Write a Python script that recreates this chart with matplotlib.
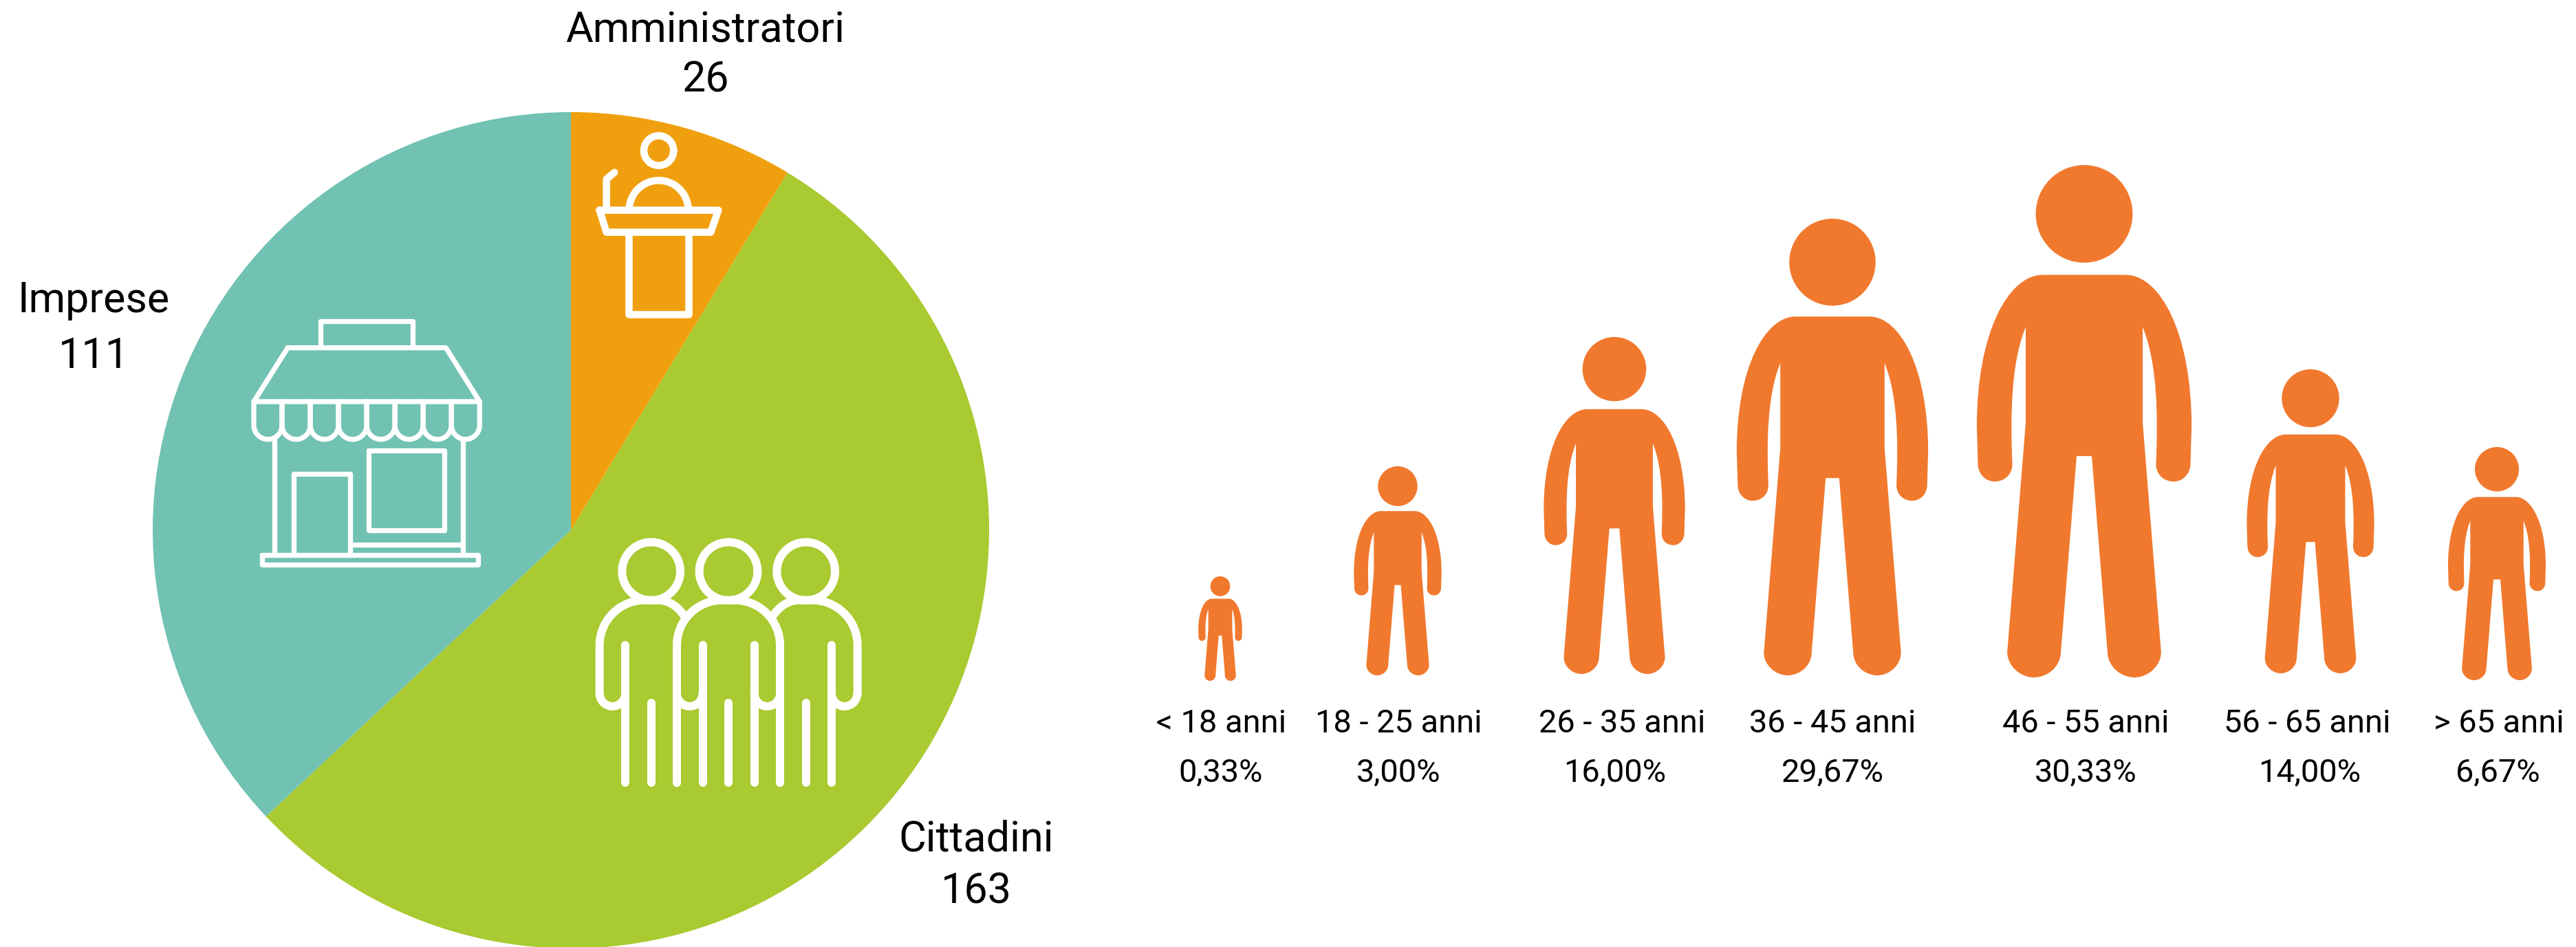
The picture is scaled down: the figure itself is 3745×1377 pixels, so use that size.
import numpy as np
import matplotlib
matplotlib.use("Agg")
import matplotlib.pyplot as plt
from matplotlib.path import Path
from matplotlib.patches import PathPatch
from matplotlib.transforms import Affine2D

# ---------- data ----------
pie_labels = ["Amministratori", "Cittadini", "Imprese"]
pie_values = [26, 163, 111]
pie_colors = ["#F0A00E", "#A9CA30", "#71C2B2"]

age_labels = ["< 18 anni", "18 - 25 anni", "26 - 35 anni", "36 - 45 anni",
              "46 - 55 anni", "56 - 65 anni", "> 65 anni"]
age_share = ["0,33%", "3,00%", "16,00%", "29,67%", "30,33%", "14,00%", "6,67%"]

# ---------- layout (pixels of the 3745x1377 canvas) ----------
W, H = 3745, 1377
PERSON_COLOR = "#F1792E"
FONT = "Roboto"
person_cx = [1774, 2032, 2347, 2664, 3030, 3359, 3630]
person_top = [838, 678, 490, 318, 240, 537, 650]
person_bot = [990, 982, 980, 982, 985, 979, 989]
label_cx = [1775, 2033, 2358, 2664, 3032, 3354, 3633]
share_cx = [1775, 2033, 2348, 2664, 3032, 3358, 3631]
pie_cx, pie_cy, pie_r = 830, 771, 608

fig = plt.figure(figsize=(W / 100, H / 100), dpi=100, facecolor="white")

# pie
pie_ax = fig.add_axes([(pie_cx - pie_r) / W, 1 - (pie_cy + pie_r) / H,
                       2 * pie_r / W, 2 * pie_r / H])
pie_ax.pie(pie_values, colors=pie_colors, startangle=90, counterclock=False,
           radius=1, wedgeprops={"linewidth": 0})
pie_ax.set_xlim(-1, 1)
pie_ax.set_ylim(-1, 1)
pie_ax.set_axis_off()

# overlay in pixel coordinates
ax = fig.add_axes([0, 0, 1, 1], facecolor="none")
ax.set_xlim(0, W)
ax.set_ylim(H, 0)
ax.set_axis_off()


def stroke(pts, off, lw_px, closed=False):
    """White outline from icon points given in crop coordinates (scale 3)."""
    p = np.asarray(pts, float) / 3 + off
    if closed:
        p = np.vstack([p, p[:1]])
    ax.plot(p[:, 0], p[:, 1], color="white", lw=lw_px * 0.72,
            solid_capstyle="round", solid_joinstyle="round", zorder=3)


def arc(cx, cy, rx, ry, a0, a1, n=40):
    t = np.radians(np.linspace(a0, a1, n))
    return np.column_stack([cx + rx * np.cos(t), cy + ry * np.sin(t)])


# --- lectern icon
o, lw = np.array([780, 0]), 10.5
stroke(arc(533, 657, 65, 65, 0, 360), o, lw)
stroke(arc(533, 917, 129, 130, 180, 360), o, lw)
stroke([(305, 917), (305, 782), (340, 752)], o, lw)
stroke([(275, 917), (793, 917), (760, 1013), (305, 1013)], o, lw, closed=True)
stroke([(403, 1013), (403, 1370), (662, 1370), (662, 1013)], o, lw)

# --- shop icon
o, lw = np.array([330, 430]), 7.3
stroke([(408, 225), (408, 110), (810, 110), (810, 225)], o, lw)
stroke([(265, 227), (955, 227), (1102, 462), (117, 462)], o, lw, closed=True)
for i in range(8):
    x0 = 117 + i * 123.1
    x1 = x0 + 123.1
    stroke(np.vstack([[(x0, 462)], arc((x0 + x1) / 2, 565, 61.5, 61.5, 180, 0),
                      [(x1, 462)]]), o, lw)
stroke([(207, 628), (207, 1130)], o, lw)
stroke([(1028, 628), (1028, 1130)], o, lw)
stroke([(290, 1130), (290, 777), (536, 777), (536, 1130)], o, lw)
stroke([(618, 675), (947, 675), (947, 1022), (618, 1022)], o, lw, closed=True)
stroke([(536, 1085), (1028, 1085)], o, lw)
stroke([(152, 1130), (1095, 1130), (1095, 1172), (152, 1172)], o, lw, closed=True)

# --- citizens icon
o, lw = np.array([840, 760]), 12
for x in (320, 657, 995):
    stroke(arc(x, 212, 127, 127, 0, 360, 80), o, lw)
    stroke([(x, 785), (x, 1135)], o, lw)
stroke(np.vstack([[(432, 1135)], arc(630, 535, 198, 197, 180, 270),
                  arc(685, 535, 197, 197, 270, 360), [(882, 1135)]]), o, lw)
stroke(np.vstack([[(95, 750)], arc(292, 535, 197, 197, 180, 270),
                  arc(350, 535, 150, 197, 270, 318)]), o, lw)
stroke(np.vstack([[(1220, 750)], arc(1023, 535, 197, 197, 360, 270),
                  arc(965, 535, 150, 197, 270, 222)]), o, lw)
for x in (207, 545, 770, 1107):
    stroke([(x, 535), (x, 1135)], o, lw)
for x in (151, 488, 826, 1163):
    stroke(arc(x, 745, 56, 56, 0, 180), o, lw)

# --- person glyph (traced right half, mirrored about x=540)
segs = [
    [(540, 355), (720, 355)],
    [(720, 355), (870, 355), (1008, 520), (1008, 790)],
    [(1008, 790), (1003, 900)],
    [(1003, 900), (1000, 930), (965, 948), (930, 948)],
    [(930, 948), (890, 948), (855, 930), (853, 900)],
    [(853, 900), (862, 760), (860, 610), (795, 505)],
    [(795, 505), (795, 780)],
    [(795, 780), (875, 1435)],
    [(875, 1435), (878, 1475), (820, 1510), (760, 1510)],
    [(760, 1510), (700, 1510), (645, 1480), (642, 1440)],
    [(642, 1440), (573, 875)],
    [(573, 875), (540, 875)],
]
verts, codes = [segs[0][0]], [Path.MOVETO]


def add(seg):
    verts.extend(seg[1:])
    codes.extend([Path.LINETO] if len(seg) == 2 else [Path.CURVE4] * 3)


for s in segs:
    add(s)
for s in reversed(segs):
    add([(1080 - x, y) for x, y in reversed(s)])
verts.append(verts[0])
codes.append(Path.CLOSEPOLY)
circ = Path.unit_circle()
head_v = circ.vertices * [211, 140] + [540, 180]
all_v = np.vstack([np.array(verts, float), head_v])
all_c = np.concatenate([codes, circ.codes])
all_v = (all_v - [540, 40]) / [938, 1470]   # unit box: x -0.5..0.5, y 0..1
glyph = Path(all_v, all_c)

for cx, top, bot in zip(person_cx, person_top, person_bot):
    h = bot - top
    tr = Affine2D().scale(h * 0.42, h).translate(cx, top) + ax.transData
    ax.add_patch(PathPatch(glyph, transform=tr, facecolor=PERSON_COLOR,
                           edgecolor="none", zorder=2))


def label(x, y, s, px):
    ax.text(x, y, s, ha="center", va="baseline", family=FONT,
            fontsize=px * 0.72, color="black", zorder=4)


PIE_PX, AGE_PX = 61, 47
label(1025, 62, pie_labels[0], PIE_PX)
label(1025, 133, str(pie_values[0]), PIE_PX)
label(136, 454, pie_labels[2], PIE_PX)
label(136, 535, str(pie_values[2]), PIE_PX)
label(1419, 1237, pie_labels[1], PIE_PX)
label(1419, 1313, str(pie_values[1]), PIE_PX)

for cx, s in zip(label_cx, age_labels):
    label(cx, 1065, s, AGE_PX)
for cx, s in zip(share_cx, age_share):
    label(cx, 1136, s, AGE_PX)

fig.savefig("out.png", dpi=100, facecolor="white")
